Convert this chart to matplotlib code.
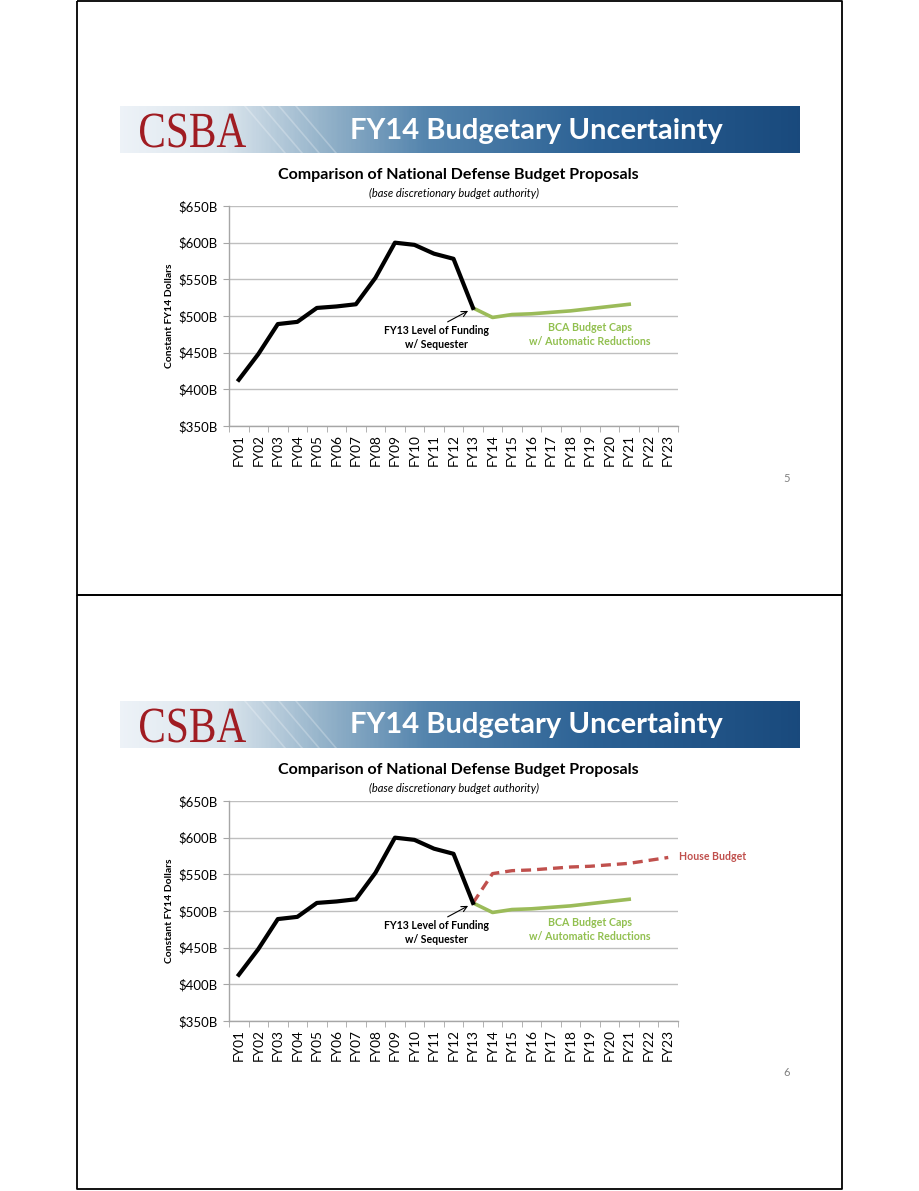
import numpy as np
import matplotlib
matplotlib.use("Agg")
import matplotlib.pyplot as plt
from matplotlib.colors import LinearSegmentedColormap
from matplotlib.textpath import TextPath
from matplotlib.patches import PathPatch
from matplotlib.font_manager import FontProperties
from matplotlib.transforms import Affine2D

# ---------------- data ----------------
years = ["FY01", "FY02", "FY03", "FY04", "FY05", "FY06", "FY07", "FY08", "FY09", "FY10",
         "FY11", "FY12", "FY13", "FY14", "FY15", "FY16", "FY17", "FY18", "FY19", "FY20",
         "FY21", "FY22", "FY23"]
actual = [413, 448, 489, 492, 511, 513, 516, 552, 600, 597, 585, 578, 511]          # FY01-FY13
bca_caps = [511, 498, 502, 503, 505, 507, 510, 513, 516]                             # FY13-FY21
house = [511, 551, 555, 556, 558, 560, 561, 563, 565, 569, 573]                      # FY13-FY23
yticks = [350, 400, 450, 500, 550, 600, 650]
ytick_labels = ["$350B", "$400B", "$450B", "$500B", "$550B", "$600B", "$650B"]

FONT = ["Lato", "DejaVu Sans"]
plt.rcParams["font.family"] = FONT

W, H = 920, 1191
fig = plt.figure(figsize=(W / 100, H / 100), dpi=100)

# background page axes in pixel coords
bg = fig.add_axes([0, 0, 1, 1])
bg.set_xlim(0, W)
bg.set_ylim(H, 0)
bg.axis("off")

# slide borders
for (y0, y1) in [(1, 595), (595, 1189)]:
    bg.plot([77, 842, 842, 77, 77], [y0, y0, y1, y1, y0], color="black", lw=1.3, solid_capstyle="butt")

cmap = LinearSegmentedColormap.from_list("banner", [
    (0.0, (0.93, 0.95, 0.97)),
    (0.15, (0.86, 0.90, 0.93)),
    (0.30, (0.58, 0.70, 0.79)),
    (0.45, (0.33, 0.52, 0.68)),
    (0.70, (0.17, 0.38, 0.58)),
    (1.0, (0.10, 0.29, 0.49)),
])
grad = np.linspace(0, 1, 400).reshape(1, -1)

serif = FontProperties(family="Liberation Serif")
logo_path = TextPath((0, 0), "CSBA", size=52, prop=serif)
lext = logo_path.get_extents()


def slide(offset, pagenum, with_house):
    top, bot = 106 + offset, 153 + offset
    bg.imshow(grad, cmap=cmap, extent=[120, 800, bot, top], aspect="auto", zorder=1)
    # faint diagonal stripes
    for sx in [245, 262, 279, 296]:
        bg.plot([sx, sx + 40], [top, bot], color="white", alpha=0.25, lw=1.2, zorder=2)
    # condensed serif logo
    sx = 106 / lext.width
    sy = 34 / lext.height
    tr = Affine2D().translate(-lext.x0, 0).scale(sx, -sy).translate(140, 147 + offset) + bg.transData
    bg.add_patch(PathPatch(logo_path, transform=tr, facecolor="#a01c22", edgecolor="none", zorder=3))
    bg.text(536, (top + bot) / 2 + 1, "FY14 Budgetary Uncertainty", fontsize=21, fontweight="bold",
            color="white", ha="center", va="center", zorder=3)
    bg.text(458, 175 + offset, "Comparison of National Defense Budget Proposals", fontsize=11.5,
            fontweight="bold", color="black", ha="center", va="center")
    bg.text(454, 193 + offset, "(base discretionary budget authority)", fontsize=8,
            style="italic", color="black", ha="center", va="center")
    bg.text(787, 478 + offset, pagenum, fontsize=8, color="#808080", ha="center", va="center")

    # chart axes
    left, right = 229, 678
    ytop, ybot = 206 + offset, 426 + offset
    ax = fig.add_axes([left / W, 1 - ybot / H, (right - left) / W, (ybot - ytop) / H])
    x = np.arange(len(years))
    ax.plot(x[:len(actual)], actual, color="black", lw=3.0, solid_joinstyle="round", zorder=4)
    ax.plot(x[12:12 + len(bca_caps)], bca_caps, color="#9bbb59", lw=2.6, zorder=3)
    if with_house:
        ax.plot(x[12:12 + len(house)], house, color="#c0504d", lw=2.4, ls=(0, (3, 1.8)), zorder=3)
    ax.set_xlim(-0.5, len(years) - 0.5)
    ax.set_ylim(350, 650)
    ax.set_yticks(yticks)
    ax.set_yticklabels(ytick_labels, fontsize=9.5)
    ax.set_xticks(x)
    ax.set_xticklabels(years, rotation=90, fontsize=9.8)
    ax.set_xticks(np.arange(-0.5, len(years), 1), minor=True)
    ax.tick_params(axis="x", which="major", length=0, pad=6)
    ax.tick_params(axis="x", which="minor", length=4, color="#a6a6a6")
    ax.tick_params(axis="y", length=4, color="#a6a6a6", pad=4)
    ax.grid(axis="y", color="#bfbfbf", lw=1)
    ax.set_axisbelow(True)
    for s in ["top", "right"]:
        ax.spines[s].set_visible(False)
    for s in ["left", "bottom"]:
        ax.spines[s].set_color("#a6a6a6")
        ax.spines[s].set_linewidth(1)
    ax.set_ylabel("Constant FY14 Dollars", fontsize=7.5, fontweight="bold", labelpad=3)

    ax.text(10.15, 471, "FY13 Level of Funding\nw/ Sequester", ha="center", va="center",
            fontsize=7.6, fontweight="bold", linespacing=1.35)
    ax.annotate("", xy=(11.75, 507), xytext=(10.7, 492),
                arrowprops=dict(arrowstyle="->", color="black", lw=0.8, shrinkA=0, shrinkB=0))
    ax.text(18.0, 475, "BCA Budget Caps\nw/ Automatic Reductions", ha="center", va="center",
            fontsize=7.7, fontweight="bold", color="#92c050", linespacing=1.35)
    if with_house:
        ax.text(22.55, 575, "House Budget", ha="left", va="center", fontsize=7.6,
                fontweight="bold", color="#c0504d", clip_on=False)
    return ax

slide(0, "5", False)
slide(595, "6", True)

fig.savefig("out.png", dpi=100)
